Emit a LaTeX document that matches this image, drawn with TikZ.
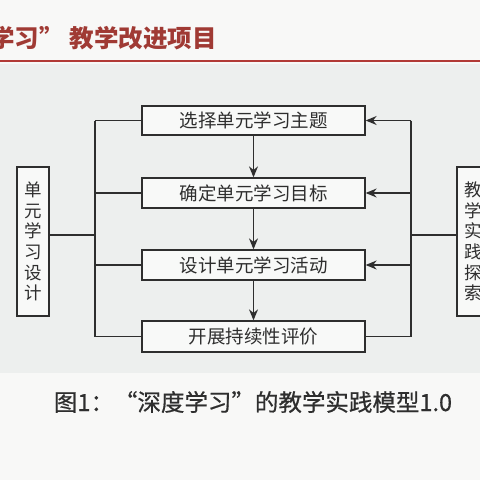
\documentclass[tikz,border=0pt]{standalone}
\usepackage{fontspec}
\newfontfamily\cjk{Noto Sans CJK SC}
\newfontfamily\cjkcap[FakeBold=0.6]{Noto Sans CJK SC}
\usetikzlibrary{arrows.meta}
\definecolor{bggray}{HTML}{EDEFEE}
\definecolor{bgwhite}{HTML}{F8F8F7}
\definecolor{hred}{HTML}{B23A36}
\definecolor{htext}{HTML}{A03A34}
\definecolor{ink}{HTML}{2E2E2E}
\tikzset{
  stepbox/.style={draw=ink, line width=1.3pt, fill=white!60!bggray, minimum width=223pt, minimum height=29pt, inner sep=0pt, font=\cjk\fontsize{18.5}{20}\selectfont, text=ink},
  sidebox/.style={draw=ink, line width=1.3pt, fill=white!60!bggray, minimum width=32pt, minimum height=149pt, inner sep=0pt, align=center, font=\cjk\fontsize{17.5}{20.6}\selectfont, text=ink},
  conn/.style={draw=ink, line width=1.3pt},
  arr/.style={conn, -{Stealth[length=11pt,width=9pt]}},
}
\begin{document}
\begin{tikzpicture}[x=1pt,y=-1pt]
\useasboundingbox (0,0) rectangle (480,480);
\fill[bgwhite] (0,0) rectangle (480,480);
\fill[bggray] (0,64) rectangle (480,373);
\draw[hred, line width=2.5pt] (0,61) -- (480,61);
\node[anchor=base west, inner sep=0pt, text=htext, font=\cjk\bfseries\fontsize{24.5}{26}\selectfont] (title) at (-10,47) {学习”\hspace{6pt}教学改进项目};

\node[stepbox] (b1) at (253.5,120.5) {选择单元学习主题};
\node[stepbox, minimum height=30pt] (b2) at (253.5,193) {确定单元学习目标};
\node[stepbox, minimum height=30pt] (b3) at (253.5,265) {设计单元学习活动};
\node[stepbox, minimum height=31pt] (b4) at (253.5,336.5) {开展持续性评价};

\node[sidebox] (L) at (33,241.5) {单\\元\\学\\习\\设\\计};
\node[sidebox] (R) at (473,241.5) {教\\学\\实\\践\\探\\索};

\coordinate (lt) at (95,120.5);
\coordinate (lb) at (95,336.5);
\coordinate (lj) at (95,235);
\coordinate (rt) at (411,120.5);
\coordinate (rb) at (411,336.5);
\coordinate (rj) at (411,235);

\draw[conn] (lt) -- (lb);
\draw[conn] (b1.west) -- (lt);
\draw[conn] (b2.west) -- (b2.west -| lt);
\draw[conn] (b3.west) -- (b3.west -| lt);
\draw[conn] (b4.west) -- (lb);
\draw[conn] (L.east |- lj) -- (lj);

\draw[conn] (rt) -- (rb);
\draw[arr] (rt) -- (b1.east);
\draw[arr] (b2.east -| rt) -- (b2.east);
\draw[arr] (b3.east -| rt) -- (b3.east);
\draw[conn] (b4.east) -- (rb);
\draw[conn] (R.west |- rj) -- (rj);

\draw[arr] (b1.south) -- (b2.north);
\draw[arr] (b2.south) -- (b3.north);
\draw[arr] (b3.south) -- (b4.north);

\node[inner sep=0pt, text=ink, font=\cjkcap\fontsize{23.5}{26}\selectfont] (cap) at (253,402) {图1：“深度学习”的教学实践模型1.0};
\end{tikzpicture}
\end{document}
